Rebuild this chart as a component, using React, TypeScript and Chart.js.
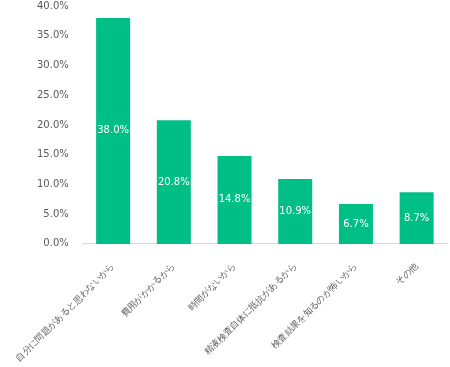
import React, { useEffect, useRef } from "react";
import { Chart, registerables } from "chart.js";

Chart.register(...registerables);

const categories = [
  "自分に問題があると思わないから",
  "費用がかかるから",
  "時間がないから",
  "精液検査自体に抵抗があるから",
  "検査結果を知るのが怖いから",
  "その他",
];
const values = [38.0, 20.8, 14.8, 10.9, 6.7, 8.7];
const yMax = 40;
const yStep = 5;

const FONT = "'DejaVu Sans', Verdana, sans-serif";

const barLabels = {
  id: "barLabels",
  afterDatasetsDraw(chart: any) {
    const ctx = chart.ctx;
    const meta = chart.getDatasetMeta(0);
    ctx.save();
    ctx.fillStyle = "#ffffff";
    ctx.font = `10px ${FONT}`;
    ctx.textAlign = "center";
    ctx.textBaseline = "middle";
    meta.data.forEach((bar: any, i: number) => {
      const v = values[i];
      const y = (bar.y + bar.base) / 2;
      ctx.fillText(v.toFixed(1) + "%", bar.x, y);
    });
    ctx.restore();
  },
};

export default function App() {
  const ref = useRef<HTMLCanvasElement>(null);
  useEffect(() => {
    if (!ref.current) return;
    const chart = new Chart(ref.current, {
      type: "bar",
      data: {
        labels: categories,
        datasets: [
          {
            data: values,
            backgroundColor: "#00BF86",
            barPercentage: 0.56,
            categoryPercentage: 1,
          },
        ],
      },
      options: {
        animation: false,
        responsive: true,
        maintainAspectRatio: false,
        layout: { padding: { left: 8, right: 3, top: 1, bottom: 3 } },
        plugins: { legend: { display: false }, tooltip: { enabled: false } },
        scales: {
          x: {
            grid: { display: false },
            border: { display: true, color: "#d9d9d9", width: 1 },
            afterFit: (scale: any) => {
              scale.height -= 9;
              scale.paddingLeft += 4;
            },
            ticks: {
              color: "#595959",
              font: { family: FONT, size: 9 },
              minRotation: 45,
              maxRotation: 45,
              autoSkip: false,
              padding: 9,
            },
          },
          y: {
            min: 0,
            max: yMax,
            grid: { display: false },
            border: { display: false },
            afterFit: (scale: any) => {
              scale.paddingTop = 6;
              scale.paddingBottom = 6;
            },
            ticks: {
              stepSize: yStep,
              color: "#595959",
              font: { family: FONT, size: 10 },
              padding: 6,
              callback: (v: any) => Number(v).toFixed(1) + "%",
            },
          },
        },
      },
      plugins: [barLabels],
    });
    return () => chart.destroy();
  }, []);
  return (
    <div style={{ position: "fixed", left: 0, top: 0, width: 450, height: 367 }}>
      <canvas ref={ref} />
    </div>
  );
}
